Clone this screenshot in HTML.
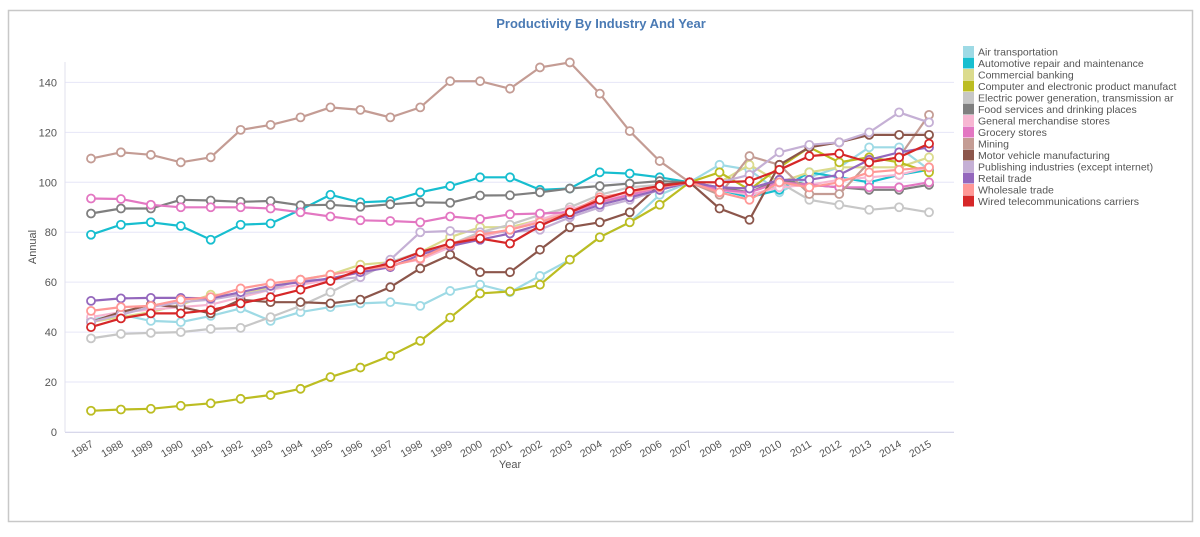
<!DOCTYPE html>
<html><head><meta charset="utf-8"><style>
html,body{margin:0;padding:0;background:#fff;}
body{width:1200px;height:532px;overflow:hidden;font-family:"Liberation Sans",sans-serif;}
</style></head><body>
<svg id="chart" width="1200" height="532" xmlns="http://www.w3.org/2000/svg">
<rect x="8.5" y="10.5" width="1184" height="511" fill="#fff" stroke="#c8c8c8" stroke-width="1.5"/>
<text x="601" y="28" text-anchor="middle" font-size="13" font-weight="bold" fill="#4a7ab4">Productivity By Industry And Year</text>
<g id="grid"></g><g id="axes"></g><g id="series"></g><g id="legend"></g>
</svg>
<script>
const years=[1987,1988,1989,1990,1991,1992,1993,1994,1995,1996,1997,1998,1999,2000,2001,2002,2003,2004,2005,2006,2007,2008,2009,2010,2011,2012,2013,2014,2015];
const yTicks=[0,20,40,60,80,100,120,140];
const names=["Air transportation","Automotive repair and maintenance","Commercial banking","Computer and electronic product manufacturing","Electric power generation, transmission and distribution","Food services and drinking places","General merchandise stores","Grocery stores","Mining","Motor vehicle manufacturing","Publishing industries (except internet)","Retail trade","Wholesale trade","Wired telecommunications carriers"];
const legendLabels=["Air transportation","Automotive repair and maintenance","Commercial banking","Computer and electronic product manufact","Electric power generation, transmission ar","Food services and drinking places","General merchandise stores","Grocery stores","Mining","Motor vehicle manufacturing","Publishing industries (except internet)","Retail trade","Wholesale trade","Wired telecommunications carriers"];
const colors=["#9edae5","#17becf","#dbdb8d","#bcbd22","#c7c7c7","#7f7f7f","#f7b6d2","#e377c2","#c49c94","#8c564b","#c5b0d5","#9467bd","#ff9896","#d62728"];
const airTransportation=[45,47,44.5,44,46.5,49.5,44.5,48,50,51.5,52,50.5,56.5,59,56,62.5,69,78,84,95,100,107,105,96,102,106,114,114,105];
const automotiveRepair=[79,83,84,82.5,77,83,83.5,89,95,92,92.5,96,98.5,102,102,97,97.5,104,103.5,102,100,97,94,97,104,102,100,103,105];
const commercialBanking=[44,46,48,51,55,55,58,61,63,67,68,72,78,82,82,85,88,92,94,97,100,100,107,100,104,106,106,106,110];
const computerElectronic=[8.5,9,9.3,10.5,11.5,13.3,14.8,17.3,22,25.8,30.5,36.5,45.8,55.5,56.3,59,69,78,84,91,100,104,97,106,114,108,110,108,104];
const electricPower=[37.5,39.3,39.7,40,41.3,41.7,46,50.5,56,62,68,72,75,80,83,87,90,95,98,99,100,97,96,100,93,91,89,90,88];
const foodServices=[87.5,89.5,89.5,93,92.7,92.2,92.5,90.8,91,90.2,91.2,92,91.8,94.7,94.8,96,97.5,98.5,99.5,100.5,100,98,96,101,99,98,97,97,99];
const generalMerchandise=[46,48,49,50,51,54,57,59,61,64,67,69,74,78,81,85,89,93,95,97,100,97,95,98,99,101,102,103,106];
const groceryStores=[93.5,93.3,91,90,90,90,89.5,88,86.3,84.8,84.5,84,86.3,85.3,87.2,87.5,88,92,95,98,100,97,96,100,99,98,98,98,100];
const mining=[109.5,112,111,108,110,121,123,126,130,129,126,130,140.5,140.5,137.5,146,148,135.5,120.5,108.5,100,95,110.5,107,95.3,95.3,108,110,127];
const motorVehicle=[44,48,51,50,47.5,53,52,52,51.5,53,58,65.5,71,64,64,73,82,84,88,99,100,89.5,85,107,114,116,119,119,119];
const publishing=[44,47,50,52,53,55,57,61,61,62,69,80,80.5,80,80,81,86,90,93,97,100,100,103,112,115,116,120,128,124];
const retailTrade=[52.5,53.5,53.7,53.7,53.5,56,58.5,60,61.5,64,66,71,74.5,77,79.5,83,87,91,94,97,100,98,97.5,101,101,103,109,112,114];
const wholesaleTrade=[48.5,50,50.5,53,54,57.5,59.5,61,63,65,66.5,69.5,75,79,81,84,88,94,96,98,100,96,93,100,98,100,104,105,106];
const wiredTelecom=[42,45.5,47.5,47.5,48.8,51.5,54,57,60.5,65,67.5,72,75.5,77.5,75.5,82.5,88,93,96.5,98.5,100,100,100.5,105,110.5,111.5,108,110,115.5];
const seriesValues=[airTransportation,automotiveRepair,commercialBanking,computerElectronic,electricPower,foodServices,generalMerchandise,groceryStores,mining,motorVehicle,publishing,retailTrade,wholesaleTrade,wiredTelecom];

const NS="http://www.w3.org/2000/svg";
const X0=91,XSTEP=29.93,Y0=432,YPX=2.497;
function xs(i){return X0+i*XSTEP;}
function ys(v){return Y0-v*YPX;}
function mk(tag,attrs,parent){const e=document.createElementNS(NS,tag);for(const k in attrs)e.setAttribute(k,attrs[k]);parent.appendChild(e);return e;}
const grid=document.getElementById('grid'),axes=document.getElementById('axes'),ser=document.getElementById('series'),leg=document.getElementById('legend');
yTicks.forEach(t=>{
 const l=mk('line',{x1:65,x2:954,y1:ys(t),y2:ys(t),stroke:'#e6e6f7','stroke-width':1},grid);
 
 
 const tx=mk('text',{x:57,y:ys(t)+4,'text-anchor':'end','font-size':11,fill:'#555'},axes);
 tx.textContent=t;
 
 
});
const ya=mk('line',{x1:65,x2:65,y1:62,y2:432,stroke:'#e0e0ee'},axes);


const xa=mk('line',{x1:65,x2:954,y1:432.5,y2:432.5,stroke:'#d8d8ea'},axes);


years.forEach((y,i)=>{
 const tx=mk('text',{x:xs(i)+3,y:446,'text-anchor':'end','font-size':10.5,fill:'#555',transform:`rotate(-30 ${xs(i)+3} 446)`},axes);
 tx.textContent=y;
 
 
});
const yt=mk('text',{x:36,y:247,'text-anchor':'middle','font-size':11,fill:'#555',transform:'rotate(-90 36 247)'},axes);
yt.textContent='Annual';


const xt=mk('text',{x:510,y:468,'text-anchor':'middle','font-size':11,fill:'#555'},axes);
xt.textContent='Year';


seriesValues.forEach((vals,s)=>{
 const g=mk('g',{},ser);
 
 
 const pts=vals.map((v,i)=>xs(i).toFixed(1)+','+ys(v).toFixed(1)).join(' ');
 const pl=mk('polyline',{points:pts,fill:'none',stroke:colors[s],'stroke-width':2.2},g);
 
 
 vals.forEach((v,i)=>{
  const c=mk('circle',{cx:xs(i),cy:ys(v),r:4,fill:'#fff',stroke:colors[s],'stroke-width':1.8},g);
  
  
 });
});
legendLabels.forEach((n,s)=>{
 const y=46+s*11.5;
 const g=mk('g',{},leg);
 
 
 mk('rect',{x:963,y:y,width:11,height:11,fill:colors[s]},g);
 const t=mk('text',{x:978,y:y+9.5,'font-size':10.5,fill:'#555'},g);
 t.textContent=n;
});
</script>
</body></html>
